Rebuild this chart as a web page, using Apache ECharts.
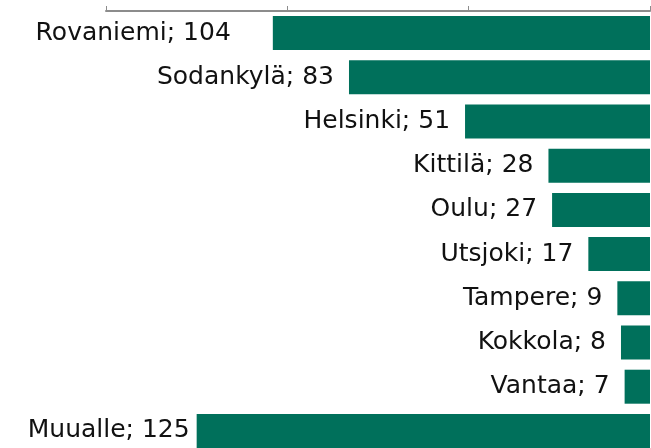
<!DOCTYPE html>
<html>
<head>
<meta charset="utf-8">
<script src="https://cdn.jsdelivr.net/npm/echarts@6/dist/echarts.min.js"></script>
<style>
    html, body { margin: 0; padding: 0; background: #fff; }
    #chart { width: 651px; height: 448px; }
</style>
</head>
<body>
<div id="chart"></div>
<script>
var cities = ['Rovaniemi', 'Sodankylä', 'Helsinki', 'Kittilä', 'Oulu', 'Utsjoki', 'Tampere', 'Kokkola', 'Vantaa', 'Muualle'];
var counts = [104, 83, 51, 28, 27, 17, 9, 8, 7, 125];
var axisTicks = [0, 50, 100, 150];

// labels that sit a bit off the default gap
var labelGap = {'Rovaniemi': 42, 'Muualle': 7};

var barData = counts.map(function (v, i) {
    var item = {value: v};
    if (labelGap[cities[i]] !== undefined) item.label = {distance: labelGap[cities[i]]};
    return item;
});

var chart = echarts.init(document.getElementById('chart'));
chart.setOption({
    animation: false,
    grid: {left: 106, right: 1, top: 11, height: 442, outerBoundsMode: 'none'},
    xAxis: {
        type: 'value',
        position: 'top',
        inverse: true,
        min: axisTicks[0],
        max: axisTicks[axisTicks.length - 1],
        interval: axisTicks[1] - axisTicks[0],
        axisLine: {show: true, lineStyle: {color: '#8c8c8c', width: 2}},
        axisTick: {show: true, length: 5, lineStyle: {color: '#8c8c8c', width: 1}},
        axisLabel: {show: false},
        splitLine: {show: false}
    },
    yAxis: {
        type: 'category',
        inverse: true,
        data: cities,
        show: false
    },
    series: [{
        type: 'bar',
        data: barData,
        barWidth: 34,
        itemStyle: {color: '#00705b'},
        label: {
            show: true,
            position: 'left',
            distance: 15,
            formatter: '{b}; {c}',
            color: '#111',
            fontFamily: 'DejaVu Sans',
            fontSize: 25
        }
    }]
});
</script>
</body>
</html>
